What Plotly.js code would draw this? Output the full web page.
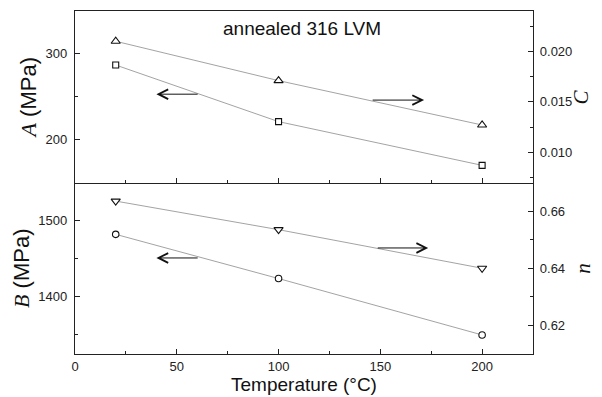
<!DOCTYPE html>
<html>
<head>
<meta charset="utf-8">
<script src="https://cdn.plot.ly/plotly-3.0.1.min.js"></script>
<style>html,body{margin:0;padding:0;background:#fff;}#chart{width:602px;height:397px;}</style>
</head>
<body>
<div id="chart"></div>
<script>
// Data
const temperature = [20, 100, 200];
const A_MPa = [287, 221, 170];
const C_val = [0.0210, 0.0171, 0.0127];
const B_MPa = [1482, 1424, 1350];
const n_val = [0.6635, 0.6535, 0.6400];
const xTicks = [0, 50, 100, 150, 200];

const lineStyle = {color: '#8c8c8c', width: 0.8};
function mk(symbol, size) {
  return {symbol: symbol, size: size, color: 'white', line: {color: '#111', width: 1.1}};
}

const traces = [
  {x: temperature, y: A_MPa, xaxis: 'x2', yaxis: 'y3', mode: 'lines+markers', line: lineStyle, marker: mk('square', 6), cliponaxis: false},
  {x: temperature, y: C_val, xaxis: 'x2', yaxis: 'y4', mode: 'lines+markers', line: lineStyle, marker: mk('triangle-up', 8), cliponaxis: false},
  {x: temperature, y: B_MPa, xaxis: 'x', yaxis: 'y', mode: 'lines+markers', line: lineStyle, marker: mk('circle', 6.5), cliponaxis: false},
  {x: temperature, y: n_val, xaxis: 'x', yaxis: 'y2', mode: 'lines+markers', line: lineStyle, marker: mk('triangle-down', 8), cliponaxis: false}
];

const axCol = '#222';
const tickFont = {family: 'Liberation Sans, Arial, sans-serif', size: 13, color: '#222'};
const serifI = (s) => '<i><span style="font-family:Liberation Serif">' + s + '</span></i>';

const baseX = {
  range: [0, 225], showline: true, linecolor: axCol, linewidth: 1.2,
  ticks: 'inside', ticklen: 5, tickcolor: axCol, tickwidth: 1,
  tickvals: xTicks, showgrid: false, zeroline: false, tickfont: tickFont,
  minor: {dtick: 25, tick0: 0, ticks: 'inside', ticklen: 3, tickcolor: axCol, showgrid: false}
};
const baseY = {
  showline: true, linecolor: axCol, linewidth: 1.2,
  ticks: 'inside', ticklen: 5, tickcolor: axCol, tickwidth: 1,
  showgrid: false, zeroline: false, tickfont: tickFont, ticklabelstandoff: 4
};

const layout = {
  width: 602, height: 397,
  margin: {l: 75, r: 69, t: 11, b: 43},
  paper_bgcolor: 'white', plot_bgcolor: 'white',
  showlegend: false,
  font: {family: 'Liberation Sans, Arial, sans-serif', color: '#222'},
  xaxis: Object.assign({}, baseX, {
    anchor: 'y', domain: [0, 1], mirror: false,
    title: {text: 'Temperature (°C)', font: {size: 19, color: '#111'}, standoff: 2}
  }),
  xaxis2: Object.assign({}, baseX, {
    anchor: 'y3', domain: [0, 1], matches: 'x', showticklabels: false, mirror: true
  }),
  yaxis: Object.assign({}, baseY, {
    anchor: 'x', domain: [0, 0.5], range: [1325, 1550], tick0: 0, dtick: 100,
    minor: {dtick: 50, tick0: 0, ticks: 'inside', ticklen: 3, tickcolor: axCol, showgrid: false},
    title: {text: serifI('B') + ' (MPa)', font: {size: 22, color: '#111'}, standoff: 2}
  }),
  yaxis2: Object.assign({}, baseY, {
    anchor: 'x', overlaying: 'y', side: 'right', range: [0.61, 0.67], tick0: 0, dtick: 0.02,
    tickformat: '.2f', ticklabelstandoff: 3,
    minor: {dtick: 0.01, tick0: 0, ticks: 'inside', ticklen: 3, tickcolor: axCol, showgrid: false}
  }),
  yaxis3: Object.assign({}, baseY, {
    anchor: 'x2', domain: [0.5, 1], range: [150, 350], tick0: 0, dtick: 100,
    minor: {dtick: 50, tick0: 0, ticks: 'inside', ticklen: 3, tickcolor: axCol, showgrid: false},
    title: {text: serifI('A') + ' (MPa)', font: {size: 22, color: '#111'}, standoff: 2}
  }),
  yaxis4: Object.assign({}, baseY, {
    anchor: 'x2', overlaying: 'y3', side: 'right', range: [0.007, 0.024], tick0: 0, dtick: 0.005,
    tickformat: '.3f', ticklabelstandoff: 3,
    minor: {dtick: 0.0025, tick0: 0, ticks: 'inside', ticklen: 3, tickcolor: axCol, showgrid: false}
  }),
  annotations: [
    {text: 'annealed 316 LVM', xref: 'paper', yref: 'paper', x: 0.495, y: 0.985, xanchor: 'center', yanchor: 'top',
     showarrow: false, font: {size: 19, color: '#111'}},
    // right-axis titles
    {text: serifI('C'), xref: 'paper', yref: 'paper', x: 1.104, y: 0.75, xanchor: 'center', yanchor: 'middle',
     textangle: -90, showarrow: false, font: {size: 21, color: '#111'}},
    {text: serifI('n'), xref: 'paper', yref: 'paper', x: 1.11, y: 0.25, xanchor: 'center', yanchor: 'middle',
     textangle: -90, showarrow: false, font: {size: 21, color: '#111'}},
    // arrows
    {text: '', xref: 'x2', yref: 'y3', axref: 'x2', ayref: 'y3', x: 40, y: 253, ax: 61, ay: 253,
     showarrow: true, arrowhead: 5, arrowsize: 1.9, arrowwidth: 1, arrowcolor: '#111'},
    {text: '', xref: 'x2', yref: 'y4', axref: 'x2', ayref: 'y4', x: 171.5, y: 0.01517, ax: 145.5, ay: 0.01517,
     showarrow: true, arrowhead: 5, arrowsize: 1.9, arrowwidth: 1, arrowcolor: '#111'},
    {text: '', xref: 'x', yref: 'y', axref: 'x', ayref: 'y', x: 40, y: 1451, ax: 61, ay: 1451,
     showarrow: true, arrowhead: 5, arrowsize: 1.9, arrowwidth: 1, arrowcolor: '#111'},
    {text: '', xref: 'x', yref: 'y2', axref: 'x', ayref: 'y2', x: 173.5, y: 0.6471, ax: 148, ay: 0.6471,
     showarrow: true, arrowhead: 5, arrowsize: 1.9, arrowwidth: 1, arrowcolor: '#111'}
  ]
};

Plotly.newPlot('chart', traces, layout, {displayModeBar: false, staticPlot: true});
</script>
</body>
</html>
